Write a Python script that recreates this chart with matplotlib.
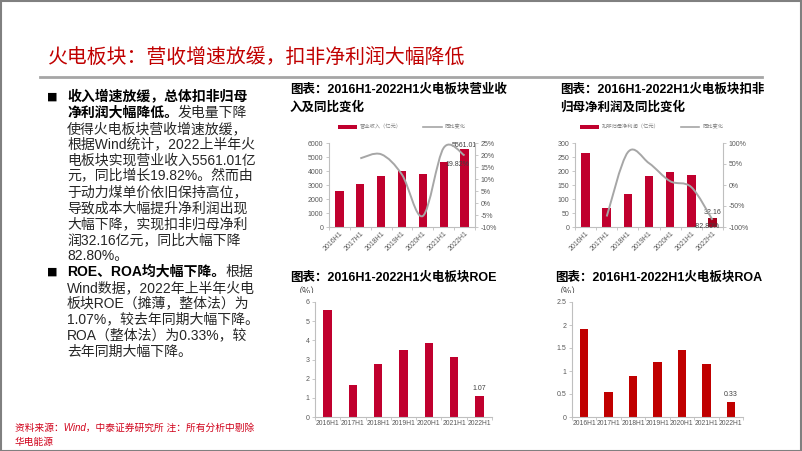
import numpy as np
import matplotlib
matplotlib.use("Agg")
import matplotlib.pyplot as plt
from matplotlib.path import Path
from matplotlib.patches import PathPatch, Rectangle, Patch
from matplotlib.lines import Line2D
from matplotlib.ticker import FixedLocator, FuncFormatter

plt.rcParams['font.family'] = ['Liberation Sans', 'Noto Sans CJK SC', 'DejaVu Sans']

# ---------------- data ----------------
periods = ["2016H1", "2017H1", "2018H1", "2019H1", "2020H1", "2021H1", "2022H1"]
revenue = [2570, 3050, 3650, 4010, 3790, 4640, 5561.01]          # 亿元
revenue_yoy = [np.nan, 18.6, 20.3, 11.8, -5.4, 23.0, 19.82]       # %
profit = [264, 67, 119, 181, 198, 187, 32.16]                      # 亿元
profit_yoy = [np.nan, -75.0, 78.0, 52.0, 9.0, -5.0, -82.80]        # %
roe = [5.57, 1.69, 2.77, 3.48, 3.84, 3.15, 1.07]
roa = [1.92, 0.54, 0.89, 1.19, 1.46, 1.15, 0.33]

rev_ticks = [0, 1000, 2000, 3000, 4000, 5000, 6000]
rev_yoy_ticks = [-10, -5, 0, 5, 10, 15, 20, 25]
prof_ticks = [0, 50, 100, 150, 200, 250, 300]
prof_yoy_ticks = [-100, -50, 0, 50, 100]
roe_ticks = [0, 1, 2, 3, 4, 5, 6]
roa_ticks = [0, 0.5, 1, 1.5, 2, 2.5]

# ---------------- figure ----------------
W, H = 802, 451
fig = plt.figure(figsize=(W / 100, H / 100), dpi=100)
fig.patch.set_facecolor('white')

RED_T = '#C00000'
BAR1 = '#C0002E'
BAR4 = '#C00000'
GRID = '#BFBFBF'
TICK = '#595959'
LINEC = '#A6A6A6'
CJK = ['Noto Sans CJK SC', 'DejaVu Sans']


def fx(px):
    return px / W


def fy(py):
    return 1 - py / H


def add_ax(x0, y0, x1, y1):
    return fig.add_axes([x0 / W, 1 - y1 / H, (x1 - x0) / W, (y1 - y0) / H])


def smooth_path(xs, ys):
    pts = np.column_stack([xs, ys]).astype(float)
    n = len(pts)
    verts = [pts[0]]
    codes = [Path.MOVETO]
    for i in range(n - 1):
        p0 = pts[i - 1] if i > 0 else pts[i]
        p1 = pts[i]
        p2 = pts[i + 1]
        p3 = pts[i + 2] if i + 2 < n else pts[i + 1]
        c1 = p1 + (p2 - p0) / 6.0
        c2 = p2 - (p3 - p1) / 6.0
        verts += [c1, c2, p2]
        codes += [Path.CURVE4] * 3
    return Path(verts, codes)


def style_axis(ax, rotate=False, fs=5):
    for s in ['top', 'right']:
        ax.spines[s].set_visible(False)
    for s in ['left', 'bottom']:
        ax.spines[s].set_color(GRID)
        ax.spines[s].set_linewidth(0.8)
    ax.set_xlim(-0.5, len(periods) - 0.5)
    ax.set_xticks(range(len(periods)))
    ax.xaxis.set_minor_locator(FixedLocator(np.arange(-0.5, len(periods), 1.0)))
    ax.tick_params(axis='x', which='major', length=0, labelsize=fs, colors=TICK, pad=2)
    ax.tick_params(axis='x', which='minor', length=2, color=GRID, width=0.6)
    ax.tick_params(axis='y', length=2, color=GRID, width=0.6, labelsize=5, labelcolor=TICK, pad=2)
    if rotate:
        ax.set_xticklabels(periods, rotation=45, ha='right', va='top', rotation_mode='anchor')
    else:
        ax.set_xticklabels(periods)
    ax.patch.set_alpha(0)


gfmt = FuncFormatter(lambda v, p: f"{v:g}")
pfmt = FuncFormatter(lambda v, p: f"{v:g}%")
x = np.arange(len(periods))

# ---------------- chart 1: revenue ----------------
ax1 = add_ax(329, 143, 475, 227)
ax1.bar(x, revenue, width=0.4, color=BAR1, zorder=2)
ax1.set_ylim(0, 6000)
ax1.set_yticks(rev_ticks)
ax1.yaxis.set_major_formatter(gfmt)
style_axis(ax1, rotate=True)
ax1.text(6, revenue[6], f"{revenue[6]:.2f}", ha='center', va='bottom', fontsize=5, color='#404040')
a1 = ax1.twinx()
a1.set_ylim(-10, 25)
a1.set_yticks(rev_yoy_ticks)
a1.yaxis.set_major_formatter(pfmt)
for s in ['top', 'left', 'bottom']:
    a1.spines[s].set_visible(False)
a1.spines['right'].set_color(GRID)
a1.spines['right'].set_linewidth(0.8)
a1.tick_params(axis='y', length=2, color=GRID, width=0.6, labelsize=5, labelcolor=TICK, pad=2)
a1.add_patch(PathPatch(smooth_path(x[1:], revenue_yoy[1:]), fill=False, ec=LINEC, lw=1.4, zorder=3))
a1.annotate(f"{revenue_yoy[6]:.2f}%", (6, revenue_yoy[6]), xytext=(-5, -4), textcoords='offset points',
            ha='center', va='top', fontsize=5, color='#404040')
a1.set_xlim(-0.5, 6.5)
ax1.legend([Patch(facecolor=BAR1), Line2D([], [], color=LINEC, lw=1.2)],
           ["营业收入（亿元）", "同比变化"], loc='center',
           bbox_to_anchor=(fx(402), fy(127)), bbox_transform=fig.transFigure,
           ncol=2, frameon=False, prop={'family': CJK, 'size': 3.8}, labelcolor='#7F7F7F',
           handlelength=3.5, handleheight=0.9, columnspacing=4, handletextpad=0.6)

# ---------------- chart 2: profit ----------------
ax2 = add_ax(575, 143, 723, 227)
bar_cols = [BAR1] * 6 + ['#A3001E']
ax2.bar(x, profit, width=0.4, color=bar_cols, zorder=2)
ax2.set_ylim(0, 300)
ax2.set_yticks(prof_ticks)
ax2.yaxis.set_major_formatter(gfmt)
style_axis(ax2, rotate=True)
ax2.text(6, profit[6] + 6, f"{profit[6]:.2f}", ha='center', va='bottom', fontsize=5, color='#404040')
a2 = ax2.twinx()
a2.set_ylim(-100, 100)
a2.set_yticks(prof_yoy_ticks)
a2.yaxis.set_major_formatter(pfmt)
for s in ['top', 'left', 'bottom']:
    a2.spines[s].set_visible(False)
a2.spines['right'].set_color(GRID)
a2.spines['right'].set_linewidth(0.8)
a2.tick_params(axis='y', length=2, color=GRID, width=0.6, labelsize=5, labelcolor=TICK, pad=2)
a2.add_patch(PathPatch(smooth_path(x[1:], profit_yoy[1:]), fill=False, ec=LINEC, lw=1.4, zorder=3))
a2.annotate(f"{profit_yoy[6]:.2f}%", (6, profit_yoy[6]), xytext=(-4, -2), textcoords='offset points',
            ha='center', va='top', fontsize=5, color='#404040')
a2.set_xlim(-0.5, 6.5)
ax2.legend([Patch(facecolor=BAR1), Line2D([], [], color=LINEC, lw=1.2)],
           ["扣非归母净利润（亿元）", "同比变化"], loc='center',
           bbox_to_anchor=(fx(652), fy(127)), bbox_transform=fig.transFigure,
           ncol=2, frameon=False, prop={'family': CJK, 'size': 3.8}, labelcolor='#7F7F7F',
           handlelength=3.5, handleheight=0.9, columnspacing=4, handletextpad=0.6)

# ---------------- chart 3: ROE ----------------
ax3 = add_ax(315, 302, 492, 417)
ax3.bar(x, roe, width=0.33, color=BAR1, zorder=2)
ax3.set_ylim(0, 6)
ax3.set_yticks(roe_ticks)
ax3.yaxis.set_major_formatter(gfmt)
style_axis(ax3, fs=4.9)
ax3.annotate(f"{roe[6]:.2f}", (6, roe[6]), xytext=(0, 3), textcoords='offset points',
             ha='center', va='bottom', fontsize=5, color='#404040')

# ---------------- chart 4: ROA ----------------
ax4 = add_ax(572, 302, 743, 417)
ax4.bar(x, roa, width=0.34, color=BAR4, zorder=2)
ax4.set_ylim(0, 2.5)
ax4.set_yticks(roa_ticks)
ax4.yaxis.set_major_formatter(gfmt)
style_axis(ax4, fs=4.9)
ax4.annotate(f"{roa[6]:.2f}", (6, roa[6]), xytext=(0, 3), textcoords='offset points',
             ha='center', va='bottom', fontsize=5, color='#404040')

# ---------------- slide decorations ----------------
fig.add_artist(Rectangle((0.5 / W, 0.5 / H), (W - 1.5) / W, (H - 1.5) / H, transform=fig.transFigure,
                         fill=False, ec='#808080', lw=1.5))
fig.add_artist(Line2D([fx(40), fx(762)], [fy(77), fy(77)], transform=fig.transFigure,
                      color='#A6A6A6', lw=2))
fig.text(fx(48), fy(57), "火电板块：营收增速放缓，扣非净利润大幅降低", fontsize=14.3,
         color=RED_T, family=CJK, va='center', ha='left')

# chart titles
ct = dict(fontsize=9.0, weight='bold', color='black', va='center', ha='left')
fig.text(fx(290), fy(90), "图表：2016H1-2022H1火电板块营业收", **ct)
fig.text(fx(290), fy(107), "入及同比变化", **ct)
fig.text(fx(560), fy(90), "图表：2016H1-2022H1火电板块扣非", **ct)
fig.text(fx(560), fy(107), "归母净利润及同比变化", **ct)
fig.text(fx(290), fy(278), "图表：2016H1-2022H1火电板块ROE", **ct)
fig.text(fx(555), fy(278), "图表：2016H1-2022H1火电板块ROA", **ct)

# partially hidden unit labels (lower half covered, as in the slide)
fig.text(fx(294), fy(292), "（%）", fontsize=6.5, color='#404040', va='center', ha='left', family=CJK)
fig.text(fx(555), fy(292), "（%）", fontsize=6.5, color='#404040', va='center', ha='left', family=CJK)
for x0 in (292, 553):
    fig.add_artist(Rectangle((fx(x0), fy(297.5)), 24 / W, 5 / H, transform=fig.transFigure,
                             fc='white', ec='none', zorder=5))

# left body text
lines = [
    [("收入增速放缓，总体扣非归母", True)],
    [("净利润大幅降低。", True), ("发电量下降", False)],
    [("使得火电板块营收增速放缓，", False)],
    [("根据Wind统计，2022上半年火", False)],
    [("电板块实现营业收入5561.01亿", False)],
    [("元，同比增长19.82%。然而由", False)],
    [("于动力煤单价依旧保持高位，", False)],
    [("导致成本大幅提升净利润出现", False)],
    [("大幅下降，实现扣非归母净利", False)],
    [("润32.16亿元，同比大幅下降", False)],
    [("82.80%。", False)],
    [("ROE、ROA均大幅下降。", True), ("根据", False)],
    [("Wind数据，2022年上半年火电", False)],
    [("板块ROE（摊薄，整体法）为", False)],
    [("1.07%，较去年同期大幅下降。", False)],
    [("ROA（整体法）为0.33%，较", False)],
    [("去年同期大幅下降。", False)],
]
bullets = {0, 11}
renderer = fig.canvas.get_renderer()
y0 = 97.0
dy = 15.9
for i, segs in enumerate(lines):
    yy = y0 + i * dy
    if i in bullets:
        fig.text(fx(47), fy(yy), "■", fontsize=8, color='black', va='center', ha='left',
                 family=['DejaVu Sans'])
    xx = 67.0
    for txt, bold in segs:
        t = fig.text(fx(xx), fy(yy), txt, fontsize=10, va='center', ha='left',
                     weight='bold' if bold else 'normal',
                     color='black' if bold else '#262626')
        xx += t.get_window_extent(renderer).width

fig.text(fx(15), fy(428), "资料来源：Wind，中泰证券研究所 注：所有分析中剔除", fontsize=7,
         color='#D0021B', style='italic', va='center', ha='left')
fig.text(fx(15), fy(442), "华电能源", fontsize=7, color='#D0021B', style='italic',
         va='center', ha='left')

fig.savefig("out.png", dpi=100, facecolor='white')
